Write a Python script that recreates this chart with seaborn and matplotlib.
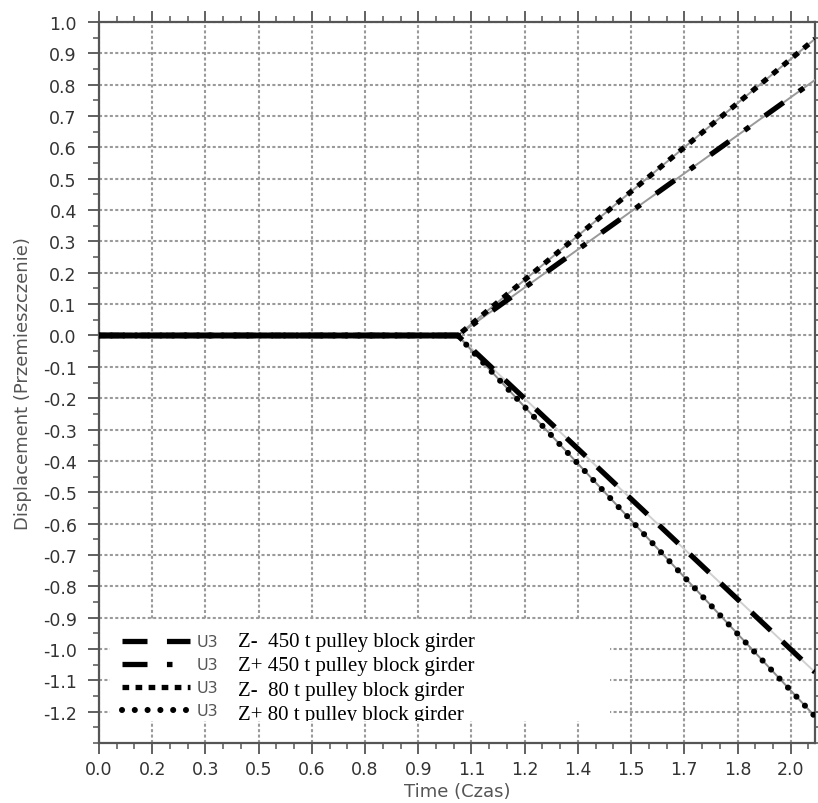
import numpy as np
import matplotlib
matplotlib.use("Agg")
import matplotlib.pyplot as plt
import seaborn as sns
from matplotlib.lines import Line2D
from matplotlib.patches import Rectangle
from matplotlib.ticker import MultipleLocator, FuncFormatter

# ---------------- data ----------------
time = [0.0, 1.037, 2.07]
z_minus_450 = [0.0, 0.0, -1.074]
z_plus_450 = [0.0, 0.0, 0.815]
z_minus_80 = [0.0, 0.0, 0.946]
z_plus_80 = [0.0, 0.0, -1.215]
series_labels = ["Z-  450 t pulley block girder",
                 "Z+ 450 t pulley block girder",
                 "Z-  80 t pulley block girder",
                 "Z+ 80 t pulley block girder"]
legend_tag = "U3"
x_tick_step = 2.0 / 13.0
y_tick_values = [round(-1.2 + 0.1 * i, 1) for i in range(23)]
x_label = "Time (Czas)"
y_label = "Displacement (Przemieszczenie)"

# ---------------- style ----------------
sns.set_style("white")
plt.rcParams["font.family"] = ["DejaVu Sans"]
plt.rcParams["axes.unicode_minus"] = False
plt.rcParams["lines.scale_dashes"] = False

fig = plt.figure(figsize=(8.18, 8.04), dpi=100)
ax = fig.add_axes([0.121, 0.0746, 0.8753, 0.8968])

series = [z_minus_450, z_plus_450, z_minus_80, z_plus_80]
line_styles = [
    dict(lw=3.8, linestyle=(0, (19, 11.5)), dash_capstyle="butt"),
    dict(lw=3.8, linestyle=(0, (16.5, 13.7, 4.3, 13.7)), dash_capstyle="butt"),
    dict(lw=3.8, linestyle=(0, (4.7, 5.0)), dash_capstyle="butt"),
    dict(lw=4.4, linestyle=(0, (0.01, 8.9)), dash_capstyle="round"),
]
gray_colors = ["#d0d0d0", "#999999", "#999999", "#8a8a8a"]

# thin gray companion curves
for vals, gc in zip(series, gray_colors):
    sns.lineplot(x=time, y=vals, ax=ax, color=gc, lw=1.4, zorder=4,
                 estimator=None, sort=False)
# styled black curves
for vals, st in zip(series, line_styles):
    sns.lineplot(x=time, y=vals, ax=ax, color="black", zorder=5,
                 estimator=None, sort=False, **st)
# overlapping flat part appears solid
for vals in series:
    sns.lineplot(x=time[:2], y=vals[:2], ax=ax, color="black", lw=3.8,
                 zorder=6, estimator=None, sort=False)

ax.set_xlim(0, 2.07)
ax.set_ylim(-1.3, 1.0)

ax.xaxis.set_major_locator(MultipleLocator(x_tick_step))
ax.xaxis.set_minor_locator(MultipleLocator(x_tick_step / 3))
ax.set_yticks(y_tick_values)
ax.yaxis.set_minor_locator(MultipleLocator(0.05))
ax.xaxis.set_major_formatter(FuncFormatter(lambda v, p: f"{v:.1f}"))
ax.yaxis.set_major_formatter(FuncFormatter(lambda v, p: f"{v:.1f}"))

ax.grid(True, which="major", color="#9a9a9a", lw=1.5,
        linestyle=(0, (2.2, 1.7)), zorder=1)
ax.set_axisbelow(True)

for sp in ax.spines.values():
    sp.set_visible(True)
    sp.set_color("#555555")
    sp.set_linewidth(1.6)

ax.tick_params(which="major", direction="out", length=8, width=1.3,
               color="#555555", labelsize=12.5, labelcolor="#333333",
               top=True, right=True, bottom=True, left=True)
ax.tick_params(which="minor", direction="out", length=4, width=1.1,
               color="#555555", top=True, right=True, bottom=True, left=True)
ax.tick_params(axis="x", which="major", pad=4)
ax.tick_params(axis="y", which="major", pad=8)

ax.set_xlabel(x_label, fontsize=13, color="#555555", labelpad=3)
ax.set_ylabel(y_label, fontsize=13, color="#555555", labelpad=8)

# ---------------- legend ----------------
box = Rectangle((0.015, 0.0305), 0.699, 0.14, transform=ax.transAxes,
                facecolor="white", edgecolor="none", zorder=7)
ax.add_patch(box)

handle_styles = [
    dict(lw=3.8, linestyle=(0, (18, 14)), dash_capstyle="butt"),
    dict(lw=3.8, linestyle=(0, (18, 14, 4, 14)), dash_capstyle="butt"),
    dict(lw=3.8, linestyle=(0, (4.8, 4.6)), dash_capstyle="butt"),
    dict(lw=4.4, linestyle=(0, (0.01, 9.2)), dash_capstyle="round"),
]
handles = [Line2D([], [], color="black", **hs) for hs in handle_styles]
leg = ax.legend(handles, [legend_tag] * len(handles), loc="upper left",
                bbox_to_anchor=(0.032, 0.151), frameon=False,
                borderpad=0, borderaxespad=0, handlelength=4.25,
                handletextpad=0.45, labelspacing=0.5,
                prop=dict(family="DejaVu Sans", size=11.5))
for t in leg.get_texts():
    t.set_color("#555555")
leg.set_zorder(8)

label_y = [0.1345, 0.1006, 0.0666, 0.0333]
for lab, yy in zip(series_labels, label_y):
    txt = ax.text(0.194, yy, lab, transform=ax.transAxes,
                  family="Liberation Serif", fontsize=15, color="black",
                  va="baseline", ha="left", zorder=9, clip_on=True)
    txt.set_clip_path(box)

fig.savefig("out.png", dpi=100)
